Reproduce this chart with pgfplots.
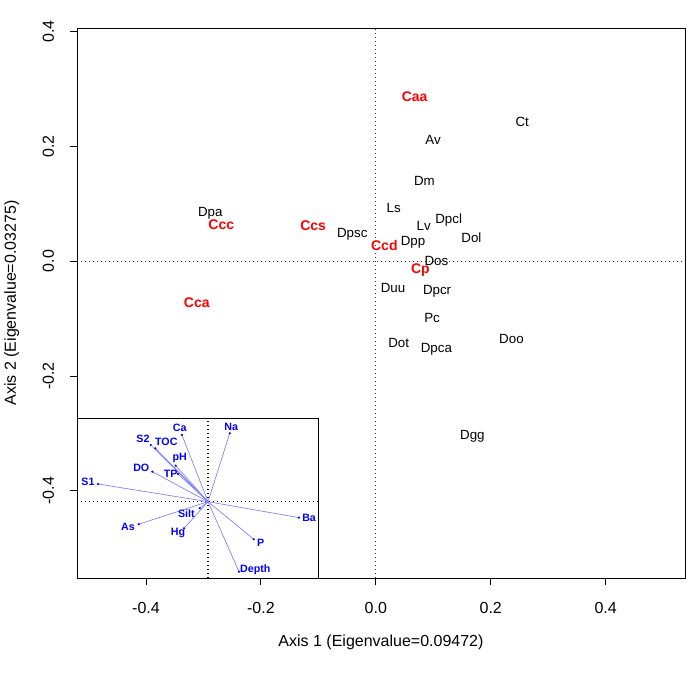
\documentclass[border=0pt]{standalone}
\usepackage{pgfplots}
\pgfplotsset{compat=1.18}
\usepackage{pgfplotstable}
\usepackage{fontspec}
\setmainfont{Liberation Sans}

\pgfplotstableread{
label x y
Ct 0.2547 0.2427
Av 0.0996 0.2108
Dm 0.0845 0.1400
Ls 0.0310 0.0918
Lv 0.0833 0.0615
Dpcl 0.1268 0.0714
Dol 0.1664 0.0413
Dpp 0.0648 0.0336
Dos 0.1054 0.0005
Duu 0.0300 -0.0476
Dpcr 0.1066 -0.0523
Pc 0.0979 -0.0998
Dot 0.0397 -0.1434
Dpca 0.1054 -0.1538
Doo 0.2360 -0.1364
Dgg 0.1680 -0.3050
Dpa -0.2880 0.0830
Dpsc -0.0410 0.0465
}\species

\pgfplotstableread{
label x y
Caa 0.0676 0.2860
Ccc -0.2690 0.0630
Ccs -0.1090 0.0610
Ccd 0.0148 0.0267
Cp 0.0775 -0.0157
Cca -0.3115 -0.0720
}\sites

\pgfplotstableread{
label u v lx ly
Ca -0.217 0.556 -0.236 0.612
Na 0.181 0.570 0.194 0.625
S2 -0.4775 0.4725 -0.542 0.5225
TOC -0.439 0.445 -0.3475 0.500
pH -0.269 0.300 -0.236 0.362
DO -0.464 0.250 -0.556 0.278
TP -0.250 0.231 -0.311 0.231
S1 -0.917 0.1475 -1.000 0.162
As -0.5775 -0.188 -0.667 -0.213
Silt -0.069 -0.055 -0.181 -0.100
Hg -0.200 -0.222 -0.250 -0.263
Ba 0.758 -0.133 0.842 -0.138
P 0.381 -0.313 0.439 -0.342
Depth 0.258 -0.583 0.394 -0.569
}\envvars

\definecolor{arrowblue}{RGB}{128,128,255}

\begin{document}
\begin{tikzpicture}
\path[use as bounding box] (0,0) rectangle (525pt,507pt);
\begin{axis}[
  at={(57.75pt,73.5pt)}, anchor=south west,
  scale only axis, width=456pt, height=412.5pt,
  xmin=-0.520, xmax=0.538, ymin=-0.552, ymax=0.406,
  xtick={-0.4,-0.2,0,0.2,0.4}, ytick={-0.4,-0.2,0,0.2,0.4},
  xticklabels={-0.4,-0.2,0.0,0.2,0.4},
  yticklabels={-0.4,-0.2,0.0,0.2,0.4},
  xtick pos=bottom, ytick pos=left,
  tick align=outside, major tick length=5.25pt,
  tick style={black, line width=0.6pt},
  axis line style={line width=0.6pt},
  /pgf/number format/assume math mode=true,
  ticklabel style={font=\fontsize{12}{14}\selectfont},
  xticklabel style={yshift=-9.25pt},
  yticklabel style={rotate=90, anchor=south, yshift=8.5pt},
  xlabel={Axis 1 (Eigenvalue=0.09472)},
  ylabel={Axis 2 (Eigenvalue=0.03275)},
  label style={font=\fontsize{12}{14}\selectfont},
  xlabel style={at={(axis description cs:0.5,-0.1164)}, anchor=center},
  ylabel style={at={(axis description cs:-0.1074,0.5)}, anchor=center, rotate=0},
  clip=false,
]
\addplot[black!80, line width=0.6pt, dash pattern=on 0.75pt off 2.25pt] coordinates {(0,-0.552) (0,0.406)};
\addplot[black!80, line width=0.6pt, dash pattern=on 0.75pt off 2.25pt] coordinates {(-0.520,0) (0.538,0)};
\addplot[draw=none, mark=none, nodes near coords, point meta=explicit symbolic,
  nodes near coords style={anchor=center, inner sep=0pt, font=\fontsize{10}{12}\selectfont, text=black}]
  table[x=x, y=y, meta=label] {\species};
\addplot[draw=none, mark=none, nodes near coords, point meta=explicit symbolic,
  nodes near coords style={anchor=center, inner sep=0pt, font=\fontsize{10.5}{12}\selectfont\bfseries, text=red}]
  table[x=x, y=y, meta=label] {\sites};
\end{axis}

\begin{axis}[
  at={(57.75pt,73.5pt)}, anchor=south west,
  scale only axis, width=181.3pt, height=119.8pt,
  xmin=-1.0917, xmax=0.9225, ymin=-0.6358, ymax=0.695,
  xtick=\empty, ytick=\empty,
  axis background/.style={fill=white},
  axis line style={line width=0.6pt},
  clip=false,
]
\addplot[black, line width=1pt, dash pattern=on 1pt off 2pt] coordinates {(0,-0.6358) (0,0.695)};
\addplot[black, line width=1pt, dash pattern=on 1pt off 2pt] coordinates {(-1.0917,0) (0.9225,0)};
\addplot[arrowblue, line width=0.5pt, quiver={u=\thisrow{u}, v=\thisrow{v}}]
  table[x expr=0, y expr=0] {\envvars};
\addplot[only marks, mark=*, mark size=0.6pt, blue] table[x=u, y=v] {\envvars};
\addplot[draw=none, mark=none, nodes near coords, point meta=explicit symbolic,
  nodes near coords style={anchor=center, inner sep=0pt, font=\fontsize{8}{10}\selectfont\bfseries, text=blue}]
  table[x=lx, y=ly, meta=label] {\envvars};
\end{axis}
\end{tikzpicture}
\end{document}
